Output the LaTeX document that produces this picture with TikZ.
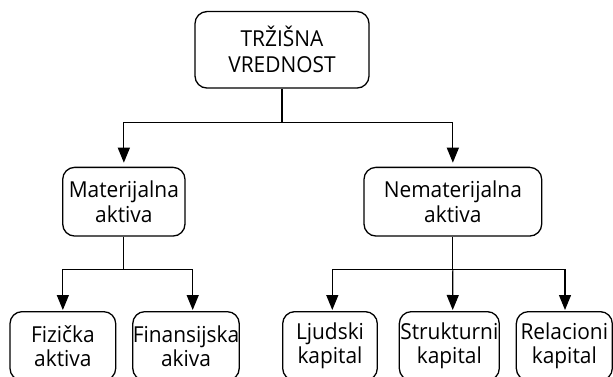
\documentclass[tikz,border=0pt]{standalone}
\usepackage{fontspec}
\setmainfont{Open Sans}[FakeStretch=0.95]
\usetikzlibrary{arrows.meta,calc}
\begin{document}
\begin{tikzpicture}[x=1pt,y=-1pt,
  box/.style={draw, line width=1.3pt, rounded corners=12pt, align=center,
    inner sep=0pt, font=\fontsize{22}{24.5}\selectfont},
  conn/.style={line width=1.2pt},
  arr/.style={conn, -{Triangle[width=12pt,length=15pt]}},
]
\useasboundingbox (0,0) rectangle (613,376);
% nodes
\node[box, minimum width=174pt, minimum height=76.5pt, font=\fontsize{22}{26}\selectfont] (mv) at (282,49.8) {TRŽIŠNA\\VREDNOST};
\node[box, minimum width=122.3pt, minimum height=68.7pt] (mat) at (123.85,201.7) {Materijalna\\aktiva};
\node[box, minimum width=177.7pt, minimum height=68.7pt] (nem) at (452.85,201.7) {Nematerijalna\\aktiva};
\node[box, minimum width=105.7pt, minimum height=68.7pt] (fiz) at (62.85,346) {Fizička\\aktiva};
\node[box, minimum width=106pt, minimum height=68.7pt] (fin) at (186,346) {Finansijska\\akiva};
\node[box, minimum width=94.6pt, minimum height=68.7pt] (lju) at (330,346) {Ljudski\\kapital};
\node[box, minimum width=100pt, minimum height=68.7pt] (str) at (449.3,346) {Strukturni\\kapital};
\node[box, minimum width=96pt, minimum height=68.7pt] (rel) at (564.3,346) {Relacioni\\kapital};
% junctions
\coordinate (s0) at ($(mv.south)+(0,34)$);
\coordinate (s1) at ($(mat.south)+(0,32.6)$);
\coordinate (s2) at ($(nem.south)+(0,33)$);
% connectors
\draw[conn] (mv.south) -- (s0);
\draw[arr, shorten >=4pt] (s0) -| (mat.north);
\draw[arr, shorten >=4pt] (s0) -| (nem.north);
\draw[conn] (mat.south) -- (s1);
\draw[arr, shorten >=1pt] (s1) -| (fiz.north);
\draw[arr, shorten >=1pt] (s1) -| ($(fin.north)+(6.7,0)$);
\draw[conn] (nem.south) -- (s2);
\draw[arr, shorten >=1pt] (s2) -| ($(lju.north)+(2.3,0)$);
\draw[arr, shorten >=1pt] (s2) -- ($(str.north)+(3.4,0)$);
\draw[arr, shorten >=1pt] (s2) -| ($(rel.north)+(0.7,0)$);
\end{tikzpicture}
\end{document}
